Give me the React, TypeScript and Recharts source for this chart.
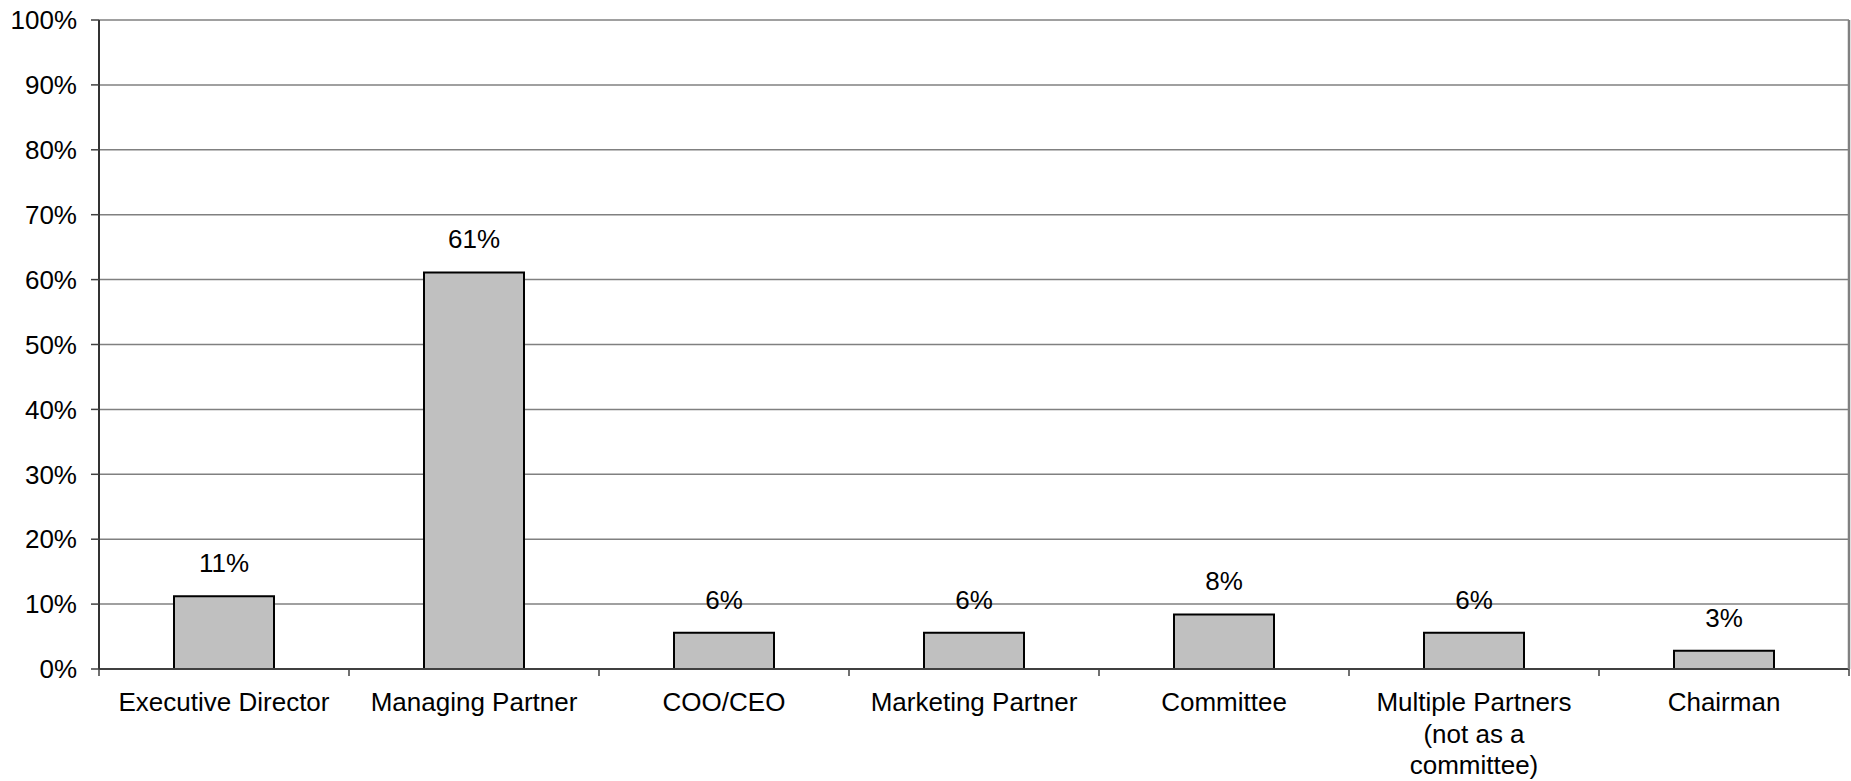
import { BarChart, Bar, XAxis, YAxis, CartesianGrid, LabelList } from "recharts";

const categories = [
  "Executive Director",
  "Managing Partner",
  "COO/CEO",
  "Marketing Partner",
  "Committee",
  "Multiple Partners\n(not as a\ncommittee)",
  "Chairman",
];
const shares = [11.2, 61.1, 5.6, 5.6, 8.4, 5.6, 2.8];
const yTicks = [0, 10, 20, 30, 40, 50, 60, 70, 80, 90, 100];

const data = categories.map((name, i) => ({ name, share: shares[i] }));

const FONT = "'Liberation Sans', Arial, Helvetica, sans-serif";
const TEXT_SIZE = 26;

function CategoryTick(props: any) {
  const { x, y, payload, index, width } = props;
  const band = (width || 1750) / categories.length;
  const lines = String(payload.value).split("\n");
  const left = x - band / 2;
  const right = x + band / 2;
  return (
    <g>
      <line x1={left} x2={left} y1={y} y2={y + 7} stroke="#404040" strokeWidth={1.5} />
      {index === categories.length - 1 && (
        <line x1={right} x2={right} y1={y} y2={y + 7} stroke="#404040" strokeWidth={1.5} />
      )}
      <text x={x} y={y + 42} textAnchor="middle" fontSize={TEXT_SIZE} fill="#000" fontFamily={FONT}>
        {lines.map((l, i) => (
          <tspan key={i} x={x} dy={i === 0 ? 0 : 31.5}>
            {l}
          </tspan>
        ))}
      </text>
    </g>
  );
}

function ValueLabel(props: any) {
  const { x, y, width, value } = props;
  return (
    <text x={x + width / 2} y={y - 24} textAnchor="middle" fontSize={TEXT_SIZE} fill="#000" fontFamily={FONT}>
      {Math.round(value)}%
    </text>
  );
}

export default function App() {
  return (
    <div style={{ position: "absolute", left: 0, top: 0, background: "#fff" }}>
      <BarChart
        width={1851}
        height={781}
        data={data}
        margin={{ top: 20, right: 0, bottom: 0, left: 0 }}
        barCategoryGap="30%"
      >
        <CartesianGrid yAxisId="left" vertical={false} stroke="#808080" strokeWidth={1.5} />
        <XAxis
          dataKey="name"
          interval={0}
          height={112}
          tickSize={0}
          tickMargin={0}
          tickLine={false}
          axisLine={{ stroke: "#404040", strokeWidth: 2 }}
          tick={<CategoryTick />}
        />
        <YAxis
          yAxisId="left"
          width={99}
          domain={[0, 100]}
          ticks={yTicks}
          interval={0}
          tickFormatter={(v: number) => `${v}%`}
          tickSize={8}
          tickMargin={14}
          tickLine={{ stroke: "#404040", strokeWidth: 1.5 }}
          axisLine={{ stroke: "#333", strokeWidth: 2 }}
          tick={{ fill: "#000", fontSize: TEXT_SIZE, fontFamily: FONT }}
        />
        <YAxis
          yAxisId="right"
          orientation="right"
          width={2}
          domain={[0, 100]}
          tick={false}
          tickLine={false}
          axisLine={{ stroke: "#808080", strokeWidth: 2.5 }}
        />
        <Bar yAxisId="left" dataKey="share" fill="#C0C0C0" stroke="#000" strokeWidth={2} isAnimationActive={false}>
          <LabelList dataKey="share" content={<ValueLabel />} />
        </Bar>
      </BarChart>
    </div>
  );
}
